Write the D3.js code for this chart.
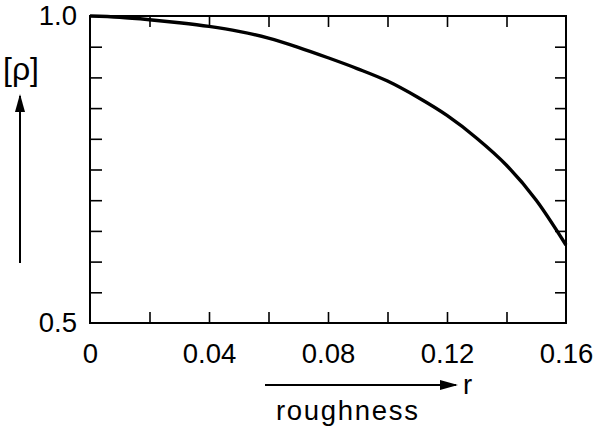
<!DOCTYPE html>
<html><head><meta charset="utf-8">
<script src="https://cdn.jsdelivr.net/npm/d3@7"></script>
<style>body{margin:0;background:#fff}svg{display:block}text{font-family:"Liberation Sans",Arial,sans-serif;fill:#000}</style>
</head><body>
<svg id="c" width="595" height="430"></svg>
<script>
const roughness = [0, 0.01, 0.02, 0.03, 0.04, 0.05, 0.06, 0.07, 0.08, 0.09, 0.10, 0.11, 0.12, 0.13, 0.14, 0.15, 0.16];
const rho = [1.0, 0.998, 0.994, 0.989, 0.983, 0.975, 0.964, 0.949, 0.932, 0.914, 0.894, 0.868, 0.838, 0.801, 0.757, 0.700, 0.627];
const xTicks = [0, 0.02, 0.04, 0.06, 0.08, 0.10, 0.12, 0.14, 0.16];
const xTickLabels = ["0", "", "0.04", "", "0.08", "", "0.12", "", "0.16"];
const yTicks = [0.5, 0.55, 0.6, 0.65, 0.7, 0.75, 0.8, 0.85, 0.9, 0.95, 1.0];
const yTickLabels = ["0.5", "", "", "", "", "", "", "", "", "", "1.0"];
const yLabel = "[ρ]";
const xLabel = "roughness";
const xSymbol = "r";

const svg = d3.select("#c");
const L = 90, R = 566, T = 16, B = 323;
const x = d3.scaleLinear().domain([0, 0.16]).range([L, R]);
const y = d3.scaleLinear().domain([0.5, 1.0]).range([B, T]);

const fs = 27.5;
function styleAxis(g) {
  g.select(".domain").remove();
  g.selectAll(".tick line").attr("stroke", "#000").attr("stroke-width", 1.6);
  g.selectAll("text").style("font-size", fs + "px").style("font-family", "Liberation Sans, Arial, sans-serif").attr("fill", "#000");
}
const inner = xTicks.slice(1, -1);
const innerY = yTicks.slice(1, -1);
svg.append("g").attr("transform", `translate(0,${B})`)
  .call(d3.axisBottom(x).tickValues(xTicks).tickSizeInner(-11).tickSizeOuter(0).tickPadding(20)
    .tickFormat((d, i) => xTickLabels[i]))
  .call(styleAxis)
  .call(g => g.selectAll(".tick").filter(d => d === 0 || d === 0.16).select("line").remove());
svg.append("g").attr("transform", `translate(0,${T})`)
  .call(d3.axisTop(x).tickValues(inner).tickSizeInner(-11).tickSizeOuter(0).tickFormat(""))
  .call(styleAxis);
svg.append("g").attr("transform", `translate(${L},0)`)
  .call(d3.axisLeft(y).tickValues(yTicks).tickSizeInner(-12).tickSizeOuter(0).tickPadding(13)
    .tickFormat((d, i) => yTickLabels[i]))
  .call(styleAxis)
  .call(g => g.selectAll(".tick").filter(d => d === 0.5 || d === 1.0).select("line").remove());
svg.append("g").attr("transform", `translate(${R},0)`)
  .call(d3.axisRight(y).tickValues(innerY).tickSizeInner(-11).tickSizeOuter(0).tickFormat(""))
  .call(styleAxis);

// frame
svg.append("rect").attr("x", L).attr("y", T).attr("width", R - L).attr("height", B - T)
  .attr("fill", "none").attr("stroke", "#000").attr("stroke-width", 2);

// curve
const pts = roughness.map((r, i) => [r, rho[i]]);
svg.append("path").datum(pts)
  .attr("fill", "none").attr("stroke", "#000").attr("stroke-width", 3.4)
  .attr("d", d3.line().x(d => x(d[0])).y(d => y(d[1])).curve(d3.curveMonotoneX));

// arrows
const defs = svg.append("defs");
defs.append("marker").attr("id", "ah").attr("viewBox", "0 0 18 10").attr("refX", 16).attr("refY", 5)
  .attr("markerWidth", 18).attr("markerHeight", 10).attr("markerUnits", "userSpaceOnUse").attr("orient", "auto")
  .append("path").attr("d", "M0,0 L18,5 L0,10 Z").attr("fill", "#000");

svg.append("line").attr("x1", 20).attr("y1", 263).attr("x2", 20).attr("y2", 96)
  .attr("stroke", "#000").attr("stroke-width", 2).attr("marker-end", "url(#ah)");
svg.append("text").attr("x", 21).attr("y", 80).attr("text-anchor", "middle")
  .style("font-size", "32px").text(yLabel);

svg.append("line").attr("x1", 265).attr("y1", 385).attr("x2", 456).attr("y2", 385)
  .attr("stroke", "#000").attr("stroke-width", 2).attr("marker-end", "url(#ah)");
svg.append("text").attr("x", 463).attr("y", 394).style("font-size", fs + "px").text(xSymbol);
svg.append("text").attr("x", 276).attr("y", 420).style("font-size", fs + "px")
  .attr("textLength", 142).attr("lengthAdjust", "spacing").text(xLabel);
</script>
</body></html>
